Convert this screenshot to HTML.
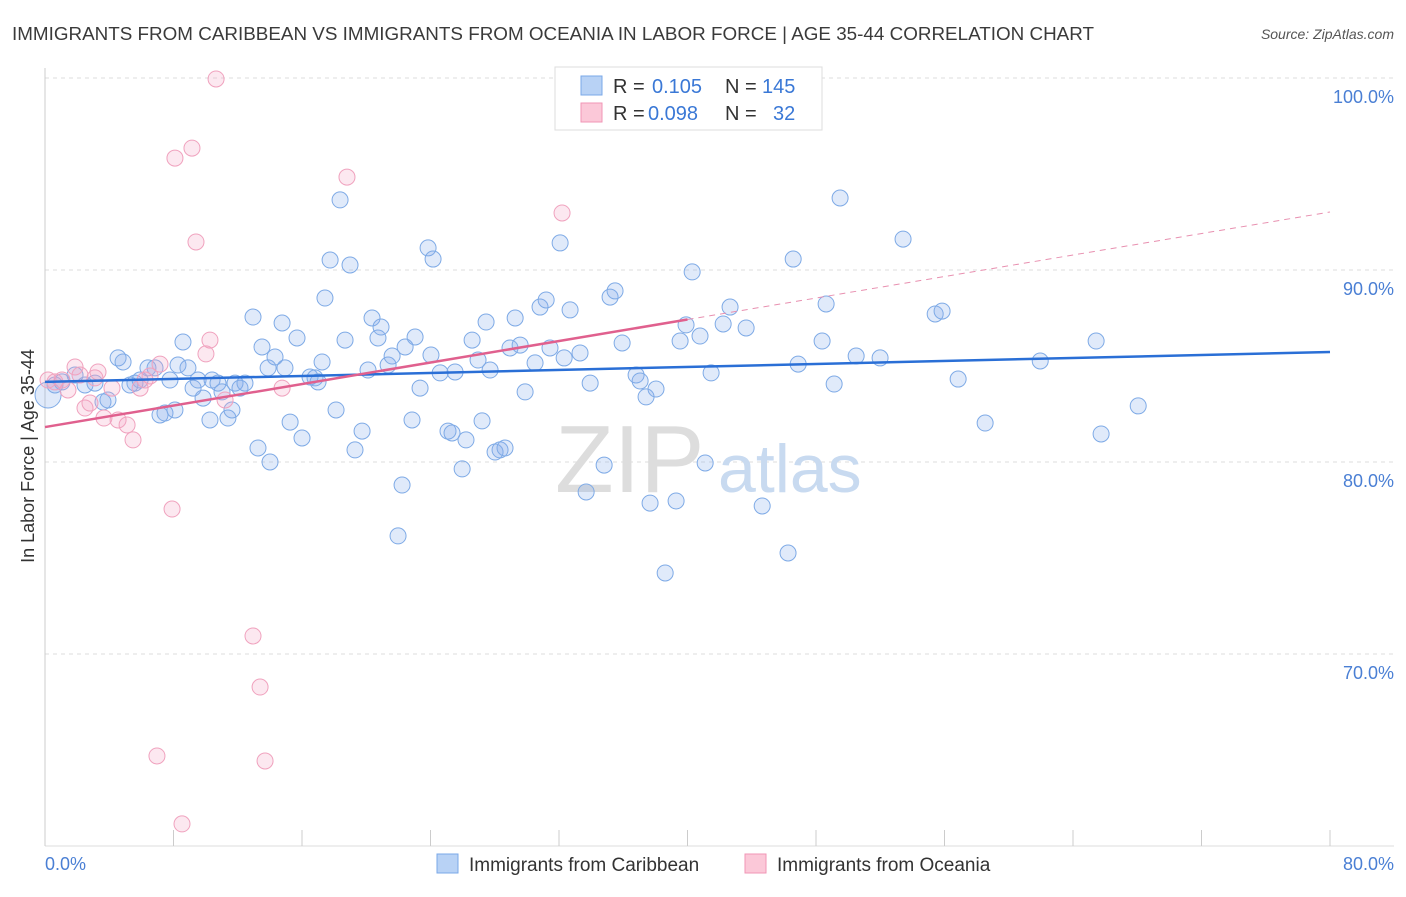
<!DOCTYPE html>
<html><head><meta charset="utf-8"><style>
body{margin:0;background:#fff;font-family:"Liberation Sans",sans-serif}
svg text{font-family:"Liberation Sans",sans-serif}
</style></head><body>
<svg id="c" width="1406" height="892">
<text x="12" y="40" font-size="18" fill="#3a3a3a" textLength="1082" lengthAdjust="spacingAndGlyphs">IMMIGRANTS FROM CARIBBEAN VS IMMIGRANTS FROM OCEANIA IN LABOR FORCE | AGE 35-44 CORRELATION CHART</text>
<text x="1394" y="39" font-size="14" fill="#555" font-style="italic" text-anchor="end">Source: ZipAtlas.com</text>
<g id="grid"></g>
<text x="555" y="492" font-size="96" fill="#ddd" font-family="Liberation Serif">ZIP</text>
<text x="718" y="492" font-size="68" fill="#c8daf0">atlas</text>
<g id="pts"></g>
<g id="lines"></g>
<text transform="translate(34,456) rotate(-90)" font-size="18" fill="#333" text-anchor="middle">In Labor Force | Age 35-44</text>
<g>
<rect x="555" y="67" width="267" height="63" fill="#fff" stroke="#ddd"/>
<rect x="581" y="76" width="21" height="19" fill="#b8d2f5" stroke="#7aa8e8"/>
<rect x="581" y="103" width="21" height="19" fill="#fbc8d8" stroke="#f096b6"/>
<text y="93" font-size="20"><tspan x="613" fill="#333">R = </tspan><tspan x="652" fill="#3a78d6">0.105</tspan><tspan x="725" fill="#333">N = </tspan><tspan x="762" fill="#3a78d6">145</tspan></text>
<text y="120" font-size="20"><tspan x="613" fill="#333">R = </tspan><tspan x="648" fill="#3a78d6">0.098</tspan><tspan x="725" fill="#333">N = </tspan><tspan x="773" fill="#3a78d6">32</tspan></text>
</g>
<g>
<rect x="437" y="854" width="21" height="19" fill="#b8d2f5" stroke="#7aa8e8"/>
<text x="469" y="871" font-size="19" fill="#333">Immigrants from Caribbean</text>
<rect x="745" y="854" width="21" height="19" fill="#fbc8d8" stroke="#f096b6"/>
<text x="777" y="871" font-size="19" fill="#333">Immigrants from Oceania</text>
</g>
</svg>
<script>
const yTicks=[100,90,80,70];
const yTickLabels=["100.0%","90.0%","80.0%","70.0%"];
const xTickVals=[0,8,16,24,32,40,48,56,64,72,80];
const blueX=[0.19,0.62,1.06,1.87,2.49,3.11,3.61,3.92,4.55,4.86,5.29,5.6,5.92,6.41,6.85,7.16,7.47,7.78,8.09,8.28,8.59,8.9,9.22,9.53,9.84,10.27,10.4,10.77,11.02,11.39,11.64,11.83,12.14,12.45,12.95,13.26,13.51,13.89,14.01,14.32,14.76,14.94,15.26,15.69,16,16.5,16.81,17,17.25,17.43,17.75,18.12,18.37,18.68,18.99,19.3,19.74,20.11,20.36,20.73,20.92,21.36,21.61,21.98,22.23,22.42,22.85,23.04,23.35,23.85,24.03,24.16,24.6,25.09,25.34,25.53,25.97,26.21,26.59,26.96,27.21,27.46,27.71,28.02,28.33,28.64,28.95,29.27,29.58,29.89,30.51,30.82,31.2,31.44,32.07,32.32,32.69,33.31,33.69,33.94,34.81,35.18,35.49,35.93,36.8,37.05,37.42,37.67,38.04,38.61,39.29,39.54,39.91,40.29,40.78,41.1,41.47,42.22,42.65,43.65,44.65,46.26,46.58,46.89,48.38,48.63,49.13,49.5,50.5,51.99,53.42,55.42,55.85,56.85,58.53,61.96,65.44,65.75,68.06];
const blueY=[83.49,84.01,84.17,84.53,84.01,84.11,83.13,83.23,85.42,85.21,84.01,84.11,84.27,84.9,84.9,82.45,82.55,84.27,82.71,85.05,86.25,84.9,83.85,84.27,83.33,82.19,84.27,84.11,83.65,82.29,82.71,84.11,83.85,84.11,87.55,80.73,85.99,84.9,80,85.47,87.24,84.9,82.08,86.46,81.25,84.43,84.38,84.17,85.21,88.54,90.52,82.71,93.65,86.35,90.26,80.63,81.61,84.79,87.5,86.46,87.03,85.05,85.52,76.15,78.8,85.99,82.19,86.51,83.85,91.15,85.57,90.57,84.64,81.61,81.51,84.69,79.64,81.15,86.35,85.31,82.14,87.29,84.79,80.52,80.63,80.73,85.94,87.5,86.09,83.65,85.16,88.07,88.44,85.94,91.41,85.42,87.92,85.68,78.44,84.11,79.84,88.59,88.91,86.2,84.53,84.22,83.39,77.86,83.8,74.22,77.97,86.3,87.14,89.9,86.56,79.95,84.64,87.19,88.07,86.98,77.71,75.26,90.57,85.1,86.3,88.23,84.06,93.75,85.52,85.42,91.61,87.71,87.86,84.32,82.03,85.26,86.3,81.46,82.92];
const pinkX=[0.19,0.62,1.06,1.43,1.87,2.18,2.49,2.8,3.11,3.3,3.67,4.17,4.55,5.11,5.48,5.92,6.23,6.54,7.16,7.91,8.09,9.15,9.4,10.02,10.27,10.65,11.21,12.95,13.39,13.7,6.97,8.53,14.76,18.8,32.19];
const pinkY=[84.27,84.17,84.27,83.75,84.95,84.53,82.81,83.07,84.38,84.69,82.29,83.85,82.19,81.93,81.15,83.85,84.27,84.48,85.1,77.55,95.83,96.35,91.46,85.63,86.35,99.95,83.23,70.94,68.28,64.43,64.69,61.15,83.85,94.84,92.97];
const blueTrend=[84.17,85.73];
const pinkTrend=[81.82,93.02];
const pinkSolidEnd=40;
const X=v=>45+v*1285/80, Y=v=>78+(100-v)*19.2;
const NS="http://www.w3.org/2000/svg";
function mk(t,a,p){const e=document.createElementNS(NS,t);for(const k in a)e.setAttribute(k,a[k]);p.appendChild(e);return e;}
const g=document.getElementById('grid');
yTicks.forEach((t,i)=>{
 const l=mk('line',{x1:45,x2:1394,y1:Y(t),y2:Y(t),stroke:'#ddd','stroke-dasharray':'4,4'},g);
 
 
 const tx=mk('text',{x:1394,y:Y(t)+25,'font-size':18,fill:'#4a7fd4','text-anchor':'end'},g);
 tx.textContent=yTickLabels[i];
 
 
});
const ax=mk('line',{x1:45,x2:45,y1:68,y2:846,stroke:'#ccc'},g);


const bx=mk('line',{x1:45,x2:1394,y1:846,y2:846,stroke:'#ddd'},g);


xTickVals.forEach(v=>{const t=mk('line',{x1:X(v),x2:X(v),y1:830,y2:846,stroke:'#ccc'},g);
 
 });
[[45,'start','0.0%'],[1394,'end','80.0%']].forEach(([x,a,s])=>{const t=mk('text',{x:x,y:870,'font-size':18,fill:'#4a7fd4','text-anchor':a},g);t.textContent=s;
 
 });
const p=document.getElementById('pts');
blueX.forEach((x,i)=>{const c=mk('circle',{cx:X(x),cy:Y(blueY[i]),r:i==0?13:8,fill:'rgba(130,170,235,0.25)',stroke:'#7eaae6','stroke-width':1},p);
 
 });
pinkX.forEach((x,i)=>{const c=mk('circle',{cx:X(x),cy:Y(pinkY[i]),r:8,fill:'rgba(245,165,195,0.25)',stroke:'#f0a2be','stroke-width':1},p);
 
 });
const L=document.getElementById('lines');
const b=mk('line',{x1:X(0),y1:Y(blueTrend[0]),x2:X(80),y2:Y(blueTrend[1]),stroke:'#2a6fd6','stroke-width':2.5},L);


const pm=pinkTrend[0]+(pinkTrend[1]-pinkTrend[0])*pinkSolidEnd/80;
const ps=mk('line',{x1:X(0),y1:Y(pinkTrend[0]),x2:X(pinkSolidEnd),y2:Y(pm),stroke:'#e0608e','stroke-width':2.5},L);


const pd=mk('line',{x1:X(pinkSolidEnd),y1:Y(pm),x2:X(80),y2:Y(pinkTrend[1]),stroke:'#e890b0','stroke-width':1,'stroke-dasharray':'6,5'},L);


</script>
</body></html>
